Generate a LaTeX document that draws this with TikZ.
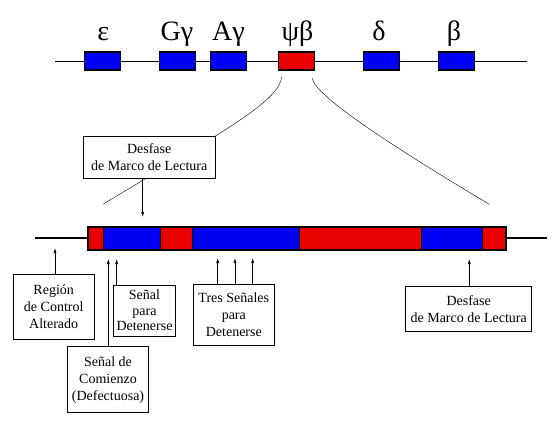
\documentclass[tikz,border=0pt]{standalone}
\usepackage{fontspec}
\setmainfont{Liberation Serif}
\newfontfamily\griega{Liberation Serif}
\usetikzlibrary{arrows.meta}
\definecolor{genazul}{RGB}{0,0,245}
\definecolor{genrojo}{RGB}{235,0,0}
\tikzset{
  gen/.style={draw, line width=1.1pt, minimum width=36pt, minimum height=18pt, inner sep=0pt},
  gnombre/.style={anchor=base, font=\griega\fontsize{28}{30}\selectfont},
  caja/.style={draw, fill=white, line width=0.6pt, align=center, inner sep=1pt,
    font=\fontsize{14}{17}\selectfont},
  flecha/.style={line width=0.6pt, -{Latex[length=5pt,width=3pt]}}
}
\begin{document}
\begin{tikzpicture}[x=1pt,y=-1pt]
        \useasboundingbox (0,0) rectangle (556,426);
        % cromosoma
        \draw[line width=1pt] (55,61)--(527,61);
        \node[gen,fill=genazul] (eps) at (102.5,61) {};
        \node[gen,fill=genazul] (Gg) at (177.2,61) {};
        \node[gen,fill=genazul] (Ag) at (228.7,61) {};
        \node[gen,fill=genrojo] (psib) at (296.3,61) {};
        \node[gen,fill=genazul] (delta) at (381.7,61) {};
        \node[gen,fill=genazul] (beta) at (456.3,61) {};
        \node[gnombre] at (103.3,40) {ε};
        \node[gnombre] at (177,40) {Gγ};
        \node[gnombre] at (228.5,40) {Aγ};
        \node[gnombre] at (297.5,40) {ψβ};
        \node[gnombre] at (379,40) {δ};
        \node[gnombre] at (454,40) {β};
        % ampliacion
        \draw (281.7,76.7) .. controls (279,100) and (235,125) .. (103.3,204);
        \draw (312.3,78.3) .. controls (314,95) and (390,145) .. (489.3,204.3);
        % gen ampliado
        \draw[line width=1.2pt] (35,238)--(88,238);
        \draw[line width=1.2pt] (506,238)--(546.7,238);
        \foreach \a/\b/\c in {88/103.3/genrojo,103.3/160.7/genazul,160.7/192.3/genrojo,
          192.3/299.3/genazul,299.3/421.3/genrojo,421.3/482.7/genazul,482.7/506/genrojo}
          \draw[fill=\c,line width=0.8pt] (\a,227) rectangle (\b,250);
        \draw[line width=1.2pt] (88,227) rectangle (506,250);
        % etiquetas
        \node[caja,minimum width=131.7pt,minimum height=41.6pt] (desA) at (149.2,157.5) {Desfase\\de Marco de Lectura};
        \node[caja,minimum width=80.7pt,minimum height=65.3pt] (region) at (53.7,306.7) {Región\\de Control\\Alterado};
        \node[caja,minimum width=80.6pt,minimum height=66pt] (comienzo) at (108,379.7) {Señal de\\Comienzo\\(Defectuosa)};
        \node[caja,minimum width=62.4pt,minimum height=51pt,font=\fontsize{14}{15.5}\selectfont] (parada) at (144.5,310.5) {Señal\\para\\Detenerse};
        \node[caja,minimum width=81pt,minimum height=60.7pt] (tres) at (233.8,314.7) {Tres Señales\\para\\Detenerse};
        \node[caja,minimum width=126pt,minimum height=45.7pt] (desB) at (468.7,308.8) {Desfase\\de Marco de Lectura};
        % flechas
        \coordinate (tA) at (142.7,217);
        \coordinate (tR) at (55,248);
        \coordinate (tC) at (108.3,259);
        \coordinate (tP) at (116.7,259);
        \coordinate (tB) at (469.3,259);
        \draw[flecha] (desA.south -| tA)--(tA);
        \draw[flecha] (region.north -| tR)--(tR);
        \draw[flecha] (comienzo.north -| tC)--(tC);
        \draw[flecha] (parada.north -| tP)--(tP);
        \foreach \x in {217.7,235,252.7}
          \draw[flecha] (tres.north -| \x,0)--(\x,258);
        \draw[flecha] (desB.north -| tB)--(tB);
      \end{tikzpicture}
\end{document}
